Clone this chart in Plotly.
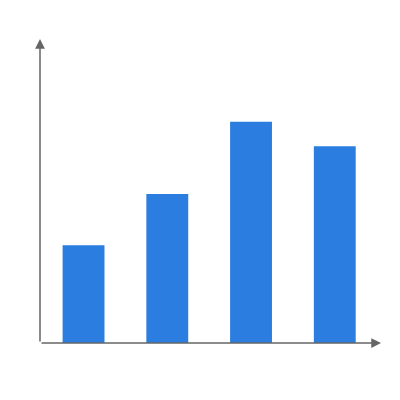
import plotly.graph_objects as go

categories = ["A", "B", "C", "D"]
values = [40, 61, 90.5, 80.5]

bar_color = "#2b7de0"
axis_color = "#666666"

fig = go.Figure(go.Bar(x=categories, y=values, marker_color=bar_color,
                       marker_line_width=0, width=0.5))

# the page adds ~8px body margin, so margins are shifted to compensate
fig.update_layout(
    width=400, height=400,
    margin=dict(l=32, r=28, t=32, b=65),
    paper_bgcolor="white", plot_bgcolor="white",
    showlegend=False,
    xaxis=dict(visible=False, range=[-0.52, 3.54]),
    yaxis=dict(visible=False, range=[0, 124]),
)

# axes as arrows
fig.add_annotation(xref="paper", yref="paper", x=0, y=1.003, ax=0, ay=304,
                   showarrow=True, arrowhead=2, arrowsize=1.3, arrowwidth=1.5,
                   arrowcolor=axis_color, text="")
fig.add_annotation(xref="paper", yref="paper", x=1.003, y=0, ax=-341, ay=0,
                   showarrow=True, arrowhead=2, arrowsize=1.3, arrowwidth=1.5,
                   arrowcolor=axis_color, text="")

fig.write_html("out.html")
